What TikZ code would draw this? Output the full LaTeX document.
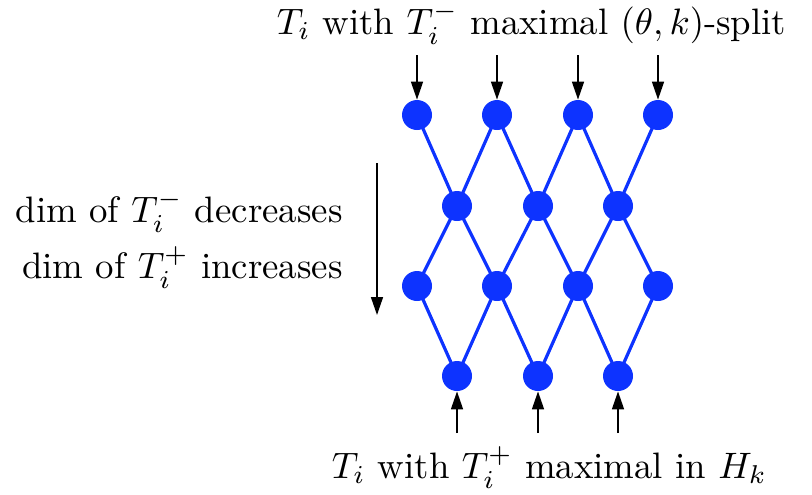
\documentclass[tikz,border=0pt]{standalone}
\usepackage{graphicx}
\usetikzlibrary{arrows.meta}
\definecolor{dotblue}{RGB}{13,51,255}
\newcommand{\bigtxt}[1]{\scalebox{1.84}{#1}}
\begin{document}
\begin{tikzpicture}[x=0.5pt,y=-0.5pt,
  dot/.style={circle,fill=dotblue,inner sep=0pt,minimum size=15pt},
  edge/.style={draw=dotblue,line width=1.6pt},
  arr/.style={draw=black,line width=0.8pt,-{Triangle[length=9pt,width=6pt]}},
  lbl/.style={inner sep=0pt}]
\useasboundingbox (0,0) rectangle (812,494);
% edges (drawn between coordinates first)
\coordinate (A1) at (417,115);
\coordinate (A2) at (497,115);
\coordinate (A3) at (578,115);
\coordinate (A4) at (658,115);
\coordinate (B1) at (457,206);
\coordinate (B2) at (538,206);
\coordinate (B3) at (618,206);
\coordinate (C1) at (417,286);
\coordinate (C2) at (497,286);
\coordinate (C3) at (578,286);
\coordinate (C4) at (658,286);
\coordinate (D1) at (457,376);
\coordinate (D2) at (538,376);
\coordinate (D3) at (618,376);
\draw[edge] (A1)--(B1) (A2)--(B1) (A2)--(B2) (A3)--(B2) (A3)--(B3) (A4)--(B3);
\draw[edge] (B1)--(C1) (B1)--(C2) (B2)--(C2) (B2)--(C3) (B3)--(C3) (B3)--(C4);
\draw[edge] (C1)--(D1) (C2)--(D1) (C2)--(D2) (C3)--(D2) (C3)--(D3) (C4)--(D3);
% nodes
\node[dot] (a1) at (A1) {};
\node[dot] (a2) at (A2) {};
\node[dot] (a3) at (A3) {};
\node[dot] (a4) at (A4) {};
\node[dot] (b1) at (B1) {};
\node[dot] (b2) at (B2) {};
\node[dot] (b3) at (B3) {};
\node[dot] (c1) at (C1) {};
\node[dot] (c2) at (C2) {};
\node[dot] (c3) at (C3) {};
\node[dot] (c4) at (C4) {};
\node[dot] (d1) at (D1) {};
\node[dot] (d2) at (D2) {};
\node[dot] (d3) at (D3) {};
% arrow ends
\coordinate (ta1) at (417,55);
\coordinate (ta2) at (497,55);
\coordinate (ta3) at (578,55);
\coordinate (ta4) at (658,55);
\coordinate (bd1) at (457,433);
\coordinate (bd2) at (538,433);
\coordinate (bd3) at (618,433);
\draw[arr] (ta1)--(a1);
\draw[arr] (ta2)--(a2);
\draw[arr] (ta3)--(a3);
\draw[arr] (ta4)--(a4);
\draw[arr] (bd1)--(d1);
\draw[arr] (bd2)--(d2);
\draw[arr] (bd3)--(d3);
\coordinate (ls) at (377,163);
\coordinate (le) at (377,315);
\draw[arr] (ls)--(le);
% labels
\node[lbl,anchor=base] (top) at (531.5,34) {\bigtxt{$T_i$ with $T_i^-$ maximal $(\theta,k)$-split}};
\node[lbl,anchor=base] (bot) at (549.5,478) {\bigtxt{$T_i$ with $T_i^+$ maximal in $H_k$}};
\node[lbl,anchor=base east] (l1) at (343,222) {\bigtxt{dim of $T_i^-$ decreases}};
\node[lbl,anchor=base east] (l2) at (343,278) {\bigtxt{dim of $T_i^+$ increases}};
\end{tikzpicture}
\end{document}
